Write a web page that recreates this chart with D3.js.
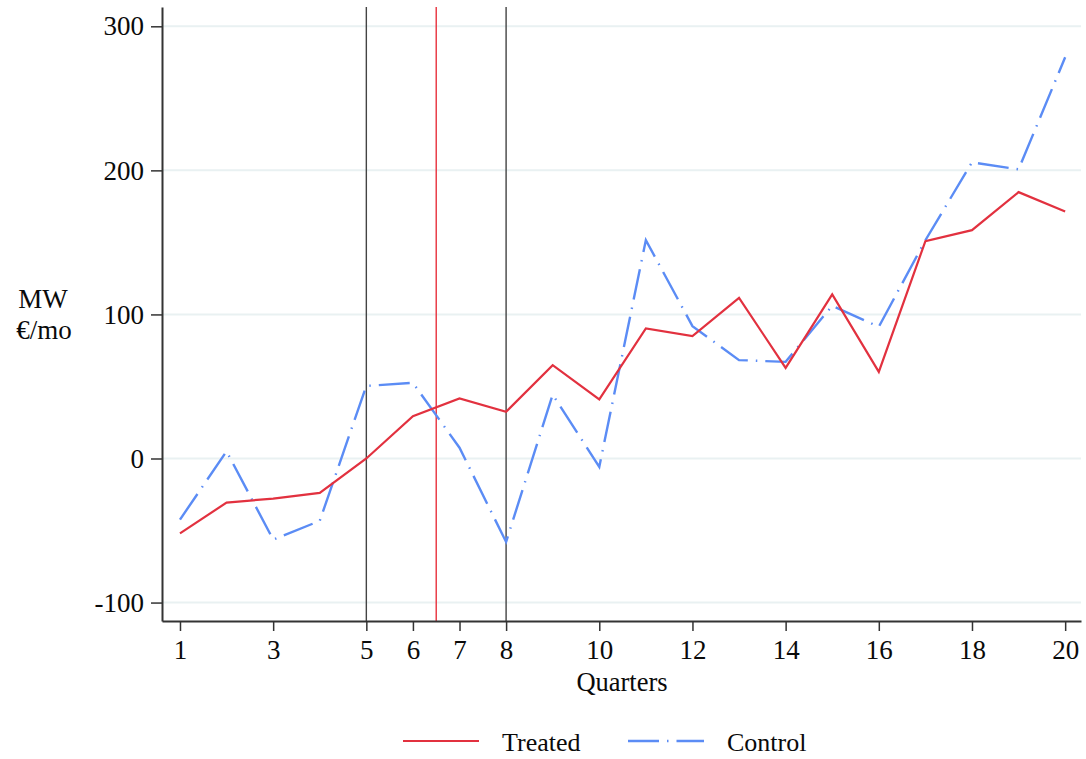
<!DOCTYPE html>
<html>
<head>
<meta charset="utf-8">
<script src="https://cdn.jsdelivr.net/npm/d3@7"></script>
<style>
  body { margin: 0; background: #fff; }
  text { font-family: "Liberation Serif", "Times New Roman", serif; fill: #0a0a0a; }
</style>
</head>
<body>
<script>
const quarters = d3.range(1, 21);
const treated = [-52, -30.6, -27.8, -23.9, 0, 29.4, 41.7, 32.4, 64.8, 41, 90.3, 84.9, 111.5, 62.9, 113.9, 60.1, 150.9, 158.5, 184.9, 171.5];
const control = [-42.4, 5, -56.3, -43.3, 50.4, 52.5, 7.5, -57.9, 44.4, -5.8, 151.6, 91.9, 68.3, 67.1, 106, 91.4, 151.5, 205.6, 200.7, 278.5];
const xTicks = [1, 3, 5, 6, 7, 8, 10, 12, 14, 16, 18, 20];
const yTicks = [-100, 0, 100, 200, 300];
const blackLines = [5, 8];
const redLines = [6.5];

const width = 1086, height = 759;
const padLeft = 162, padRight = 1081, padTop = 7, padBottom = 621;

const svg = d3.select("body").append("svg")
  .attr("width", width)
  .attr("height", height);

const xScale = d3.scaleLinear().domain([0.614, 20.34]).range([padLeft, padRight]);
const yScale = d3.scaleLinear().domain([-112.8, 313.4]).range([padBottom, padTop]);

// gridlines
svg.append("g")
  .selectAll("line")
  .data(yTicks)
  .join("line")
  .attr("x1", padLeft).attr("x2", padRight)
  .attr("y1", d => yScale(d)).attr("y2", d => yScale(d))
  .attr("stroke", "#e9f1f2")
  .attr("stroke-width", 2);

// vertical reference lines
svg.append("g")
  .selectAll("line")
  .data(blackLines)
  .join("line")
  .attr("x1", d => xScale(d)).attr("x2", d => xScale(d))
  .attr("y1", padTop).attr("y2", padBottom)
  .attr("stroke", "#444")
  .attr("stroke-width", 1.4);

svg.append("g")
  .selectAll("line")
  .data(redLines)
  .join("line")
  .attr("x1", d => xScale(d)).attr("x2", d => xScale(d))
  .attr("y1", padTop).attr("y2", padBottom)
  .attr("stroke", "#e8303c")
  .attr("stroke-width", 1.4);

const line = d3.line()
  .x((d, i) => xScale(quarters[i]))
  .y(d => yScale(d));

svg.append("path")
  .datum(control)
  .attr("d", line)
  .attr("fill", "none")
  .attr("stroke", "#5b8cf5")
  .attr("stroke-width", 2.4)
  .attr("stroke-dasharray", "31,8,1.5,8");

svg.append("path")
  .datum(treated)
  .attr("d", line)
  .attr("fill", "none")
  .attr("stroke", "#e2313f")
  .attr("stroke-width", 2.2);

// axes
const xAxis = d3.axisBottom(xScale).tickValues(xTicks).tickSize(10).tickPadding(9).tickSizeOuter(0);
const yAxis = d3.axisLeft(yScale).tickValues(yTicks).tickSize(11).tickPadding(7).tickSizeOuter(0)
  .tickFormat(d => String(d));

const gx = svg.append("g")
  .attr("transform", "translate(0," + padBottom + ")")
  .call(xAxis);
const gy = svg.append("g")
  .attr("transform", "translate(" + padLeft + ",0)")
  .call(yAxis);

[gx, gy].forEach(g => {
  g.select(".domain").attr("stroke", "#333").attr("stroke-width", 2);
  g.selectAll(".tick line").attr("stroke", "#333").attr("stroke-width", 1.5);
  g.selectAll(".tick text")
    .attr("font-family", "Liberation Serif")
    .attr("font-size", 27)
    .attr("fill", "#0a0a0a");
});

svg.append("text")
  .attr("x", 622).attr("y", 691)
  .attr("text-anchor", "middle")
  .attr("font-size", 26.5)
  .text("Quarters");

svg.append("text")
  .attr("x", 43).attr("y", 308)
  .attr("text-anchor", "middle")
  .attr("font-size", 27)
  .text("MW");
svg.append("text")
  .attr("x", 44).attr("y", 339)
  .attr("text-anchor", "middle")
  .attr("font-size", 27)
  .text("€/mo");

// legend
svg.append("line")
  .attr("x1", 403).attr("x2", 479)
  .attr("y1", 741).attr("y2", 741)
  .attr("stroke", "#e2313f")
  .attr("stroke-width", 2.2);
svg.append("text")
  .attr("x", 502).attr("y", 751)
  .attr("font-size", 26)
  .text("Treated");

svg.append("line")
  .attr("x1", 628).attr("x2", 704)
  .attr("y1", 741).attr("y2", 741)
  .attr("stroke", "#5b8cf5")
  .attr("stroke-width", 2.4)
  .attr("stroke-dasharray", "31,8,1.5,8");
svg.append("text")
  .attr("x", 727).attr("y", 751)
  .attr("font-size", 26)
  .text("Control");
</script>
</body>
</html>
